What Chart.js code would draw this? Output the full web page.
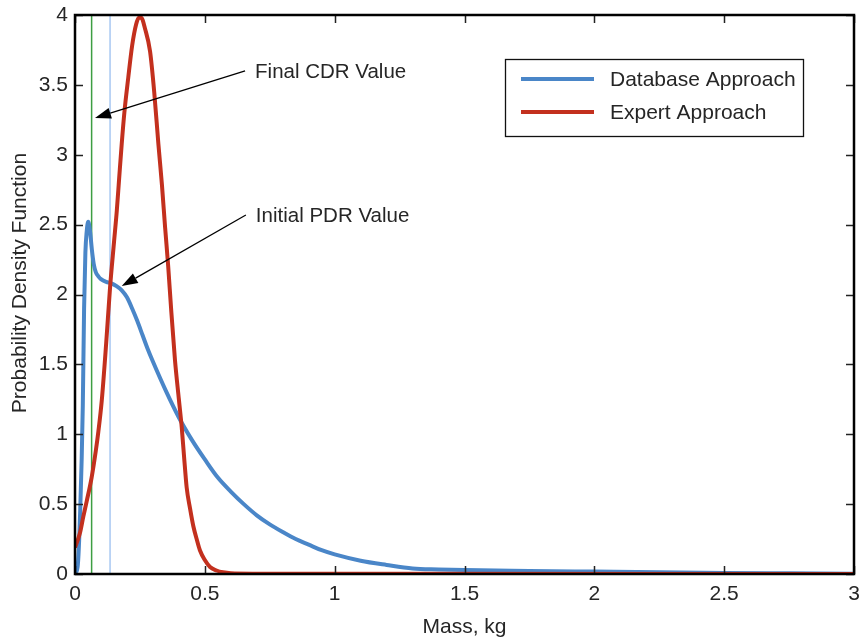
<!DOCTYPE html>
<html>
<head>
<meta charset="utf-8">
<script src="https://cdn.jsdelivr.net/npm/chart.js@4.4.1/dist/chart.umd.min.js"></script>
<style>
html,body{margin:0;padding:0;background:#fff;}
#wrap{width:863px;height:643px;position:relative;}
</style>
</head>
<body>
<div id="wrap"><canvas id="c"></canvas></div>
<script>
// ---- data ----
const dbX = [0,0.01,0.02,0.03,0.035,0.04,0.045,0.051,0.058,0.065,0.072,0.08,0.09,0.1,0.12,0.14,0.16,0.18,0.2,0.22,0.24,0.26,0.28,0.3,0.35,0.4,0.45,0.5,0.55,0.6,0.65,0.7,0.75,0.8,0.85,0.9,0.95,1.0,1.1,1.2,1.3,1.4,1.5,1.75,2.0,2.25,2.5,2.75,3.0];
const dbY = [0,0.05,0.45,1.2,1.9,2.3,2.45,2.52,2.45,2.32,2.22,2.16,2.13,2.11,2.09,2.08,2.06,2.03,1.98,1.9,1.81,1.71,1.61,1.52,1.31,1.12,0.96,0.82,0.69,0.59,0.5,0.42,0.355,0.3,0.25,0.21,0.17,0.14,0.095,0.065,0.04,0.033,0.028,0.022,0.017,0.012,0.008,0.005,0.002];
const exX = [0,0.01,0.02,0.032,0.045,0.064,0.08,0.09,0.103,0.12,0.135,0.15,0.161,0.17,0.18,0.19,0.205,0.22,0.235,0.246,0.255,0.27,0.289,0.305,0.321,0.335,0.347,0.359,0.37,0.385,0.4,0.411,0.42,0.43,0.443,0.456,0.47,0.481,0.5,0.52,0.545,0.57,0.6,0.7,1.0,3.0];
const exY = [0.19,0.24,0.3,0.41,0.52,0.69,0.88,1.02,1.24,1.65,2.05,2.37,2.6,2.83,3.08,3.3,3.55,3.78,3.93,3.98,3.98,3.9,3.74,3.45,3.08,2.78,2.48,2.2,1.9,1.53,1.25,1.05,0.84,0.62,0.47,0.34,0.24,0.17,0.1,0.05,0.025,0.012,0.005,0.002,0.001,0];
const seriesNames = ['Database Approach','Expert Approach'];
const cdrX = 0.064;   // Final CDR value (green line)
const pdrX = 0.135;   // Initial PDR value (light blue line)
const xTicks = [0,0.5,1,1.5,2,2.5,3];
const xTickLabels = ['0','0.5','1','1.5','2','2.5','3'];
const yTicks = [0,0.5,1,1.5,2,2.5,3,3.5,4];
const yTickLabels = ['0','0.5','1','1.5','2','2.5','3','3.5','4'];
const xTitle = 'Mass, kg';
const yTitle = 'Probability Density Function';
const noteTexts = ['Final CDR Value','Initial PDR Value'];
const noteTailX = [0.655,0.658];
const noteTailY = [3.6,2.569];
const noteHeadX = [0.077,0.18];
const noteHeadY = [3.263,2.06];

const BLUE = '#4a86c8', RED = '#c3301e', GREEN = '#3d9e42', LBLUE = '#a8c8f2';
const FONT = '"Liberation Sans", Arial, Helvetica, sans-serif';
const TXT = '#262626';

const pts = (xs, ys) => xs.map((x, i) => ({x: x, y: ys[i]}));

const framePlugin = {
  id: 'frame',
  afterDatasetsDraw(chart) {
    const ctx = chart.ctx, a = chart.chartArea;
    const xs = chart.scales.x, ys = chart.scales.y;
    ctx.save();
    // inward ticks
    ctx.strokeStyle = '#222';
    ctx.lineWidth = 1.5;
    const tl = 8;
    xTicks.forEach(v => {
      const px = Math.round(xs.getPixelForValue(v)) + 0.5;
      ctx.beginPath();
      ctx.moveTo(px, a.bottom); ctx.lineTo(px, a.bottom - tl);
      ctx.moveTo(px, a.top); ctx.lineTo(px, a.top + tl);
      ctx.stroke();
    });
    yTicks.forEach(v => {
      const py = Math.round(ys.getPixelForValue(v)) + 0.5;
      ctx.beginPath();
      ctx.moveTo(a.left, py); ctx.lineTo(a.left + tl, py);
      ctx.moveTo(a.right, py); ctx.lineTo(a.right - tl, py);
      ctx.stroke();
    });
    // box
    ctx.strokeStyle = '#000';
    ctx.lineWidth = 2.5;
    ctx.strokeRect(a.left, a.top, a.right - a.left, a.bottom - a.top);

    // y axis title
    ctx.fillStyle = TXT;
    ctx.font = '21px ' + FONT;
    ctx.textAlign = 'center';
    ctx.textBaseline = 'middle';
    ctx.save();
    ctx.translate(20, 283);
    ctx.rotate(-Math.PI / 2);
    ctx.fillText(yTitle, 0, 0);
    ctx.restore();

    // annotations (text arrows)
    ctx.font = '20.5px ' + FONT;
    ctx.textBaseline = 'middle';
    ctx.textAlign = 'left';
    noteTexts.forEach((t, i) => {
      const x0 = xs.getPixelForValue(noteTailX[i]), y0 = ys.getPixelForValue(noteTailY[i]);
      const x1 = xs.getPixelForValue(noteHeadX[i]), y1 = ys.getPixelForValue(noteHeadY[i]);
      const ang = Math.atan2(y1 - y0, x1 - x0);
      const L = 16, W = 5.5;
      const bx = x1 - L * Math.cos(ang), by = y1 - L * Math.sin(ang);
      ctx.strokeStyle = '#000';
      ctx.lineWidth = 1.3;
      ctx.beginPath(); ctx.moveTo(x0, y0); ctx.lineTo(bx, by); ctx.stroke();
      ctx.fillStyle = '#000';
      ctx.beginPath();
      ctx.moveTo(x1, y1);
      ctx.lineTo(bx + W * Math.sin(ang), by - W * Math.cos(ang));
      ctx.lineTo(bx - W * Math.sin(ang), by + W * Math.cos(ang));
      ctx.closePath(); ctx.fill();
      ctx.fillStyle = TXT;
      ctx.fillText(t, x0 + 10, y0 + 1);
    });

    // legend
    const lx = 505, ly = 59, lw = 298, lh = 77;
    ctx.fillStyle = '#fff';
    ctx.fillRect(lx, ly, lw, lh);
    ctx.strokeStyle = '#111';
    ctx.lineWidth = 1.3;
    ctx.strokeRect(lx + 0.5, ly + 0.5, lw, lh);
    const ds = chart.data.datasets;
    [0, 1].forEach((k, j) => {
      const yy = ly + 20 + j * 33;
      ctx.strokeStyle = ds[k].borderColor;
      ctx.lineWidth = 4;
      ctx.beginPath(); ctx.moveTo(lx + 16, yy); ctx.lineTo(lx + 89, yy); ctx.stroke();
      ctx.fillStyle = TXT;
      ctx.font = '21px ' + FONT;
      ctx.fillText(ds[k].label, lx + 105, yy + 1);
    });
    ctx.restore();
  }
};

new Chart(document.getElementById('c'), {
  type: 'line',
  data: {
    datasets: [
      {label: seriesNames[0], data: pts(dbX, dbY), borderColor: BLUE, borderWidth: 4, pointRadius: 0, cubicInterpolationMode: 'monotone', order: 1, fill: false},
      {label: seriesNames[1], data: pts(exX, exY), borderColor: RED, borderWidth: 4, pointRadius: 0, cubicInterpolationMode: 'monotone', order: 0, fill: false},
      {label: 'cdr', data: [{x: cdrX, y: 0}, {x: cdrX, y: 4}], borderColor: GREEN, borderWidth: 1.5, pointRadius: 0, order: 2},
      {label: 'pdr', data: [{x: pdrX, y: 0}, {x: pdrX, y: 4}], borderColor: LBLUE, borderWidth: 1.5, pointRadius: 0, order: 3}
    ]
  },
  options: {
    responsive: true,
    maintainAspectRatio: false,
    animation: false,
    devicePixelRatio: 1,
    layout: {padding: {top: 15, right: 9, left: 0, bottom: 0}},
    plugins: {legend: {display: false}, tooltip: {enabled: false}},
    scales: {
      x: {
        type: 'linear', min: 0, max: 3,
        afterBuildTicks: s => { s.ticks = xTicks.map(v => ({value: v})); },
        afterFit: s => { s.height = 69; s.paddingLeft = 0; s.paddingRight = 0; },
        ticks: {callback: (v) => xTickLabels[xTicks.indexOf(v)], font: {family: FONT, size: 21}, color: TXT, padding: 8, maxRotation: 0, autoSkip: false},
        grid: {display: true, drawOnChartArea: false, drawTicks: false},
        border: {display: false},
        title: {display: true, text: xTitle, font: {family: FONT, size: 21}, color: TXT, padding: {top: 0, bottom: 3}}
      },
      y: {
        type: 'linear', min: 0, max: 4,
        afterBuildTicks: s => { s.ticks = yTicks.map(v => ({value: v})); },
        afterFit: s => { s.width = 75; s.paddingTop = 0; s.paddingBottom = 0; },
        ticks: {callback: (v) => yTickLabels[yTicks.indexOf(v)], font: {family: FONT, size: 21}, color: TXT, padding: 7, autoSkip: false},
        grid: {display: true, drawOnChartArea: false, drawTicks: false},
        border: {display: false},
        title: {display: false}
      }
    }
  },
  plugins: [framePlugin]
});
</script>
</body>
</html>
